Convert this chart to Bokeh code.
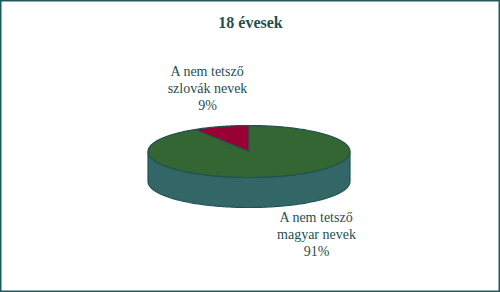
import math
from bokeh.plotting import figure
from bokeh.models import Range1d
from bokeh.core.properties import value
from bokeh.embed import file_html
from bokeh.resources import INLINE

# ---- data ----
title_text = "18 évesek"
categories = ["A nem tetsző szlovák nevek", "A nem tetsző magyar nevek"]
label_lines = [["A nem tetsző", "szlovák nevek"], ["A nem tetsző", "magyar nevek"]]
values = [9, 91]
colors = ["#990033", "#336633"]

# ---- layout ----
W, H = 500, 292
cx, cy = 248.5, 151.0
rx, ry = 101.0, 26.0
depth = 30.0
side_color = "#336666"
edge_color = "#1f5252"
text_color = "#1f4f4f"
font = "Liberation Serif"

p = figure(width=W, height=H, x_range=Range1d(0, W), y_range=Range1d(H, 0),
           output_backend="svg", toolbar_location=None, min_border=0)
p.axis.visible = False
p.grid.visible = False
p.outline_line_color = "#1f5a5a"
p.outline_line_width = 2
p.background_fill_color = "white"
p.border_fill_color = "white"

def pt(phi_deg, dy=0.0):
    a = math.radians(phi_deg)
    return cx + rx * math.cos(a), cy - ry * math.sin(a) + dy

# side (front half)
xs, ys = [], []
for i in range(0, 181):
    x, y = pt(180 + i)
    xs.append(x); ys.append(y)
for i in range(180, -1, -1):
    x, y = pt(180 + i, depth)
    xs.append(x); ys.append(y)
p.patch(xs, ys, fill_color=side_color, line_color=edge_color, line_width=1.2)

# top slices: first slice starts at 12 o'clock going counter-clockwise
total = sum(values)
start = 90.0
sx, sy = [], []
for v in values:
    span = 360.0 * v / total
    n = max(4, int(span))
    px, py = [cx], [cy]
    for i in range(n + 1):
        x, y = pt(start + span * i / n)
        px.append(x); py.append(y)
    sx.append(px); sy.append(py)
    start += span
p.patches(sx, sy, fill_color=colors, line_color=edge_color, line_width=1.2)

# title
p.text([250], [22], text=[title_text], text_align="center", text_baseline="middle",
       text_font=value(font), text_font_style="bold", text_font_size="16px",
       text_color=text_color)

# labels
label_pos = [(207, 71), (316, 217)]
for (lx, ly), lines, v in zip(label_pos, label_lines, values):
    all_lines = lines + [f"{v}%"]
    p.text([lx] * len(all_lines), [ly + 17 * i for i in range(len(all_lines))],
           text=all_lines, text_align="center", text_baseline="middle",
           text_font=value(font), text_font_size="14px", text_color=text_color)

open("out.html", "w").write(file_html(p, INLINE))
